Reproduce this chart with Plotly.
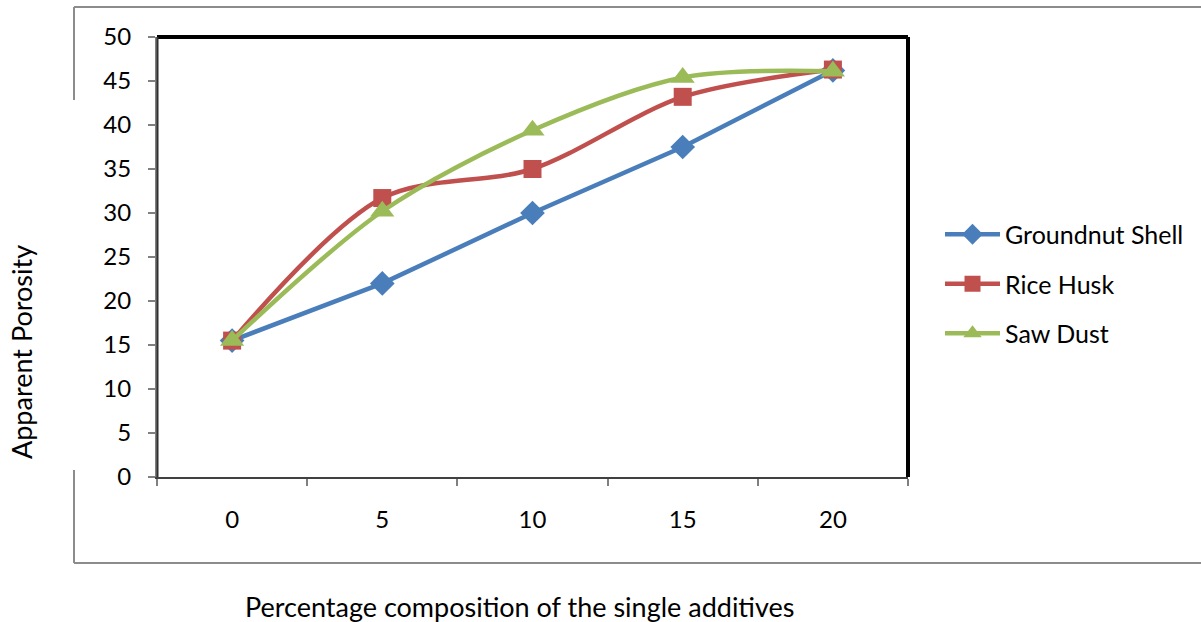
import plotly.graph_objects as go

categories = [0, 5, 10, 15, 20]
groundnut_shell = [15.5, 22.0, 30.0, 37.5, 46.2]
rice_husk = [15.5, 31.7, 35.0, 43.2, 46.3]
saw_dust = [15.5, 30.2, 39.4, 45.4, 46.1]
y_ticks = [0, 5, 10, 15, 20, 25, 30, 35, 40, 45, 50]

FONT = "Lato"
L, R, T, B = 157, 908, 37, 477
W, H = 1201, 622

fig = go.Figure()
fig.add_trace(go.Scatter(
    x=categories, y=groundnut_shell, name="Groundnut Shell", mode="lines+markers",
    line=dict(color="#4A7EBB", width=4.5),
    marker=dict(symbol="diamond", size=19, color="#4A7EBB"),
    legendgroup="a"))
fig.add_trace(go.Scatter(
    x=categories, y=rice_husk, name="Rice Husk", mode="lines+markers",
    line=dict(color="#C0504D", width=4.5, shape="spline", smoothing=0.9),
    marker=dict(symbol="square", size=18, color="#C0504D"),
    legendgroup="b"))
fig.add_trace(go.Scatter(
    x=categories, y=saw_dust, name="Saw Dust", mode="lines+markers",
    line=dict(color="#9BBB59", width=4.5, shape="spline", smoothing=0.9),
    marker=dict(symbol="triangle-up", size=21, color="#9BBB59"),
    legendgroup="c"))

pw = R - L
ph = B - T

def px_x(v):
    return (v - L) / pw

def px_y(v):
    return (B - v) / ph

fig.update_layout(
    width=W, height=H,
    margin=dict(l=L, r=W - R, t=T, b=H - B, pad=0),
    paper_bgcolor="white", plot_bgcolor="white",
    font=dict(family=FONT, size=24, color="black"),
    showlegend=True,
    legend=dict(x=px_x(940), y=px_y(284), xanchor="left", yanchor="middle",
                font=dict(size=25), tracegroupgap=14, itemwidth=55,
                bgcolor="rgba(0,0,0,0)"),
    xaxis=dict(range=[-2.5, 22.5], tickvals=categories, ticktext=[str(c) for c in categories],
               ticks="", showgrid=False, zeroline=False, showline=True,
               linecolor="#404040", linewidth=2, ticklabelstandoff=20,
               minor=dict(tickvals=[-2.5, 2.5, 7.5, 12.5, 17.5, 22.5], ticks="outside",
                          ticklen=7, tickcolor="#808080", tickwidth=1.5),
               fixedrange=True),
    yaxis=dict(range=[0, 50], tickvals=y_ticks, ticks="outside", ticklen=7,
               tickcolor="#808080", tickwidth=1.5, showgrid=False, zeroline=False,
               showline=True, linecolor="#808080", linewidth=2, ticklabelstandoff=12,
               fixedrange=True),
)

# plot area frame (top/right heavy black)
fig.add_shape(type="line", xref="paper", yref="paper", x0=0, x1=1, y0=1, y1=1,
              line=dict(color="black", width=4))
fig.add_shape(type="line", xref="paper", yref="paper", x0=1, x1=1, y0=0, y1=1,
              line=dict(color="black", width=4))
fig.add_shape(type="line", xref="paper", yref="paper", x0=px_x(157.5), x1=px_x(157.5), y0=0, y1=1,
              line=dict(color="#303030", width=2))

# outer chart border
bx0, by0, by1 = px_x(74), px_y(7), px_y(563)
grey = dict(color="#8C8C8C", width=2)
fig.add_shape(type="line", xref="paper", yref="paper", x0=bx0, x1=px_x(1205), y0=by0, y1=by0, line=grey)
fig.add_shape(type="line", xref="paper", yref="paper", x0=bx0, x1=px_x(1205), y0=by1, y1=by1, line=grey)
fig.add_shape(type="line", xref="paper", yref="paper", x0=bx0, x1=bx0, y0=by0, y1=px_y(100), line=grey)
fig.add_shape(type="line", xref="paper", yref="paper", x0=bx0, x1=bx0, y0=px_y(470), y1=by1, line=grey)

# axis titles
fig.add_annotation(text="Percentage composition of the single additives", xref="paper", yref="paper",
                   x=px_x(520), y=px_y(606), xanchor="center", yanchor="middle",
                   showarrow=False, font=dict(size=27))
fig.add_annotation(text="Apparent Porosity", xref="paper", yref="paper",
                   x=px_x(22), y=px_y(352), xanchor="center", yanchor="middle",
                   textangle=-90, showarrow=False, font=dict(size=27))

fig.write_html("out.html")
